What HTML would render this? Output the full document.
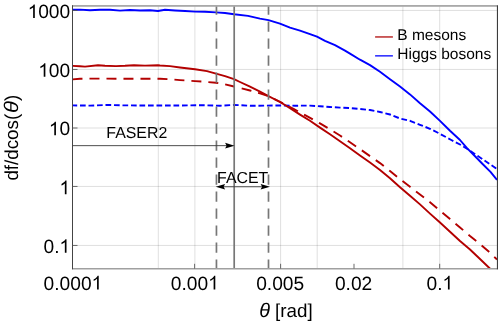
<!DOCTYPE html>
<html><head><meta charset="utf-8"><title>plot</title>
<style>
html,body{margin:0;padding:0;background:#fff;}
body{width:498px;height:322px;overflow:hidden;}
svg{display:block;font-family:"Liberation Sans",sans-serif;text-rendering:geometricPrecision;}
svg{will-change:transform;}
</style></head><body>
<svg width="498" height="322" viewBox="0 0 498 322">
<rect width="498" height="322" fill="#fff"/>
<defs><clipPath id="c"><rect x="72.5" y="6" width="425.5" height="263.2"/></clipPath></defs>

<g stroke="#000" stroke-opacity="0.14" stroke-width="0.9" fill="none">
<path d="M72.5,10.45 H497.5"/>
<path d="M72.5,69.45 H497.5"/>
<path d="M72.5,128.0 H497.5"/>
<path d="M72.5,186.45 H497.5"/>
<path d="M72.5,245.45 H497.5"/>
<path d="M158.3,6.0 V268.6"/>
<path d="M194.9,6.0 V268.6"/>
<path d="M280.6,6.0 V268.6"/>
<path d="M317.2,6.0 V268.6"/>
<path d="M402.9,6.0 V268.6"/>
<path d="M439.7,6.0 V268.6"/>
</g>
<g clip-path="url(#c)" fill="none" stroke-linejoin="round">
<path d="M72.5,105.4 L90.0,105.6 L108.0,104.9 L125.0,105.4 L150.0,105.5 L180.0,105.5 L200.0,105.2 L220.0,105.7 L234.0,104.9 L250.0,105.8 L265.0,105.6 L280.0,105.5 L295.0,105.7 L310.0,105.6 L320.0,106.3 L330.0,107.0 L340.0,107.6 L350.0,108.0 L360.0,109.0 L370.0,110.0 L380.0,112.0 L390.0,114.5 L400.0,118.5 L410.0,120.8 L420.0,124.8 L430.0,128.8 L438.8,133.2 L451.3,140.0 L460.0,144.5 L467.0,148.7 L482.6,159.2 L495.2,167.8 L497.0,169.5" stroke="#0000ff" stroke-width="1.9" stroke-dasharray="5.7 2.8" stroke-dashoffset="1"/>
<path d="M72.5,79.4 L80.0,78.7 L100.0,78.6 L120.0,78.8 L140.0,78.7 L160.0,78.7 L170.0,79.3 L180.0,80.1 L195.0,81.1 L205.0,81.8 L216.0,82.7 L225.0,84.3 L234.0,86.5 L240.0,88.0 L250.0,90.5 L260.0,93.3 L268.0,96.0 L276.0,99.8 L282.0,102.8 L294.0,109.1 L306.0,115.7 L320.0,123.4 L330.0,129.4 L340.0,135.5 L350.0,142.3 L360.0,149.1 L370.0,156.1 L380.0,163.1 L390.0,171.1 L400.0,179.2 L410.0,186.8 L420.0,194.4 L430.0,202.2 L440.0,210.7 L450.0,219.1 L460.0,227.4 L470.0,236.0 L480.0,244.0 L488.7,251.5 L497.0,259.5" stroke="#b30000" stroke-width="1.9" stroke-dasharray="10 7" stroke-dashoffset="0"/>
<path d="M72.5,65.9 L80.0,66.3 L85.0,66.6 L98.0,65.2 L105.0,65.8 L116.0,66.1 L125.0,65.8 L134.0,65.3 L145.0,65.6 L158.0,65.3 L160.0,65.5 L170.0,66.1 L180.0,67.5 L195.0,69.3 L207.0,71.1 L216.0,73.7 L225.0,76.1 L234.0,79.1 L240.0,82.0 L250.0,86.6 L260.0,91.6 L268.0,95.8 L280.0,102.0 L290.0,108.1 L300.0,114.6 L310.0,120.8 L320.0,127.6 L330.0,134.3 L340.0,141.2 L350.0,148.3 L360.0,155.5 L370.0,162.6 L380.0,170.0 L390.0,178.3 L400.0,187.2 L410.0,195.8 L420.0,204.4 L430.0,213.6 L440.0,222.5 L450.0,231.7 L460.0,241.0 L470.0,249.5 L480.0,259.0 L490.4,269.0" stroke="#b30000" stroke-width="1.9"/>
<path d="M72.5,9.8 L80.0,9.6 L90.0,10.3 L100.0,9.8 L110.0,9.7 L120.0,10.6 L130.0,10.0 L140.0,10.5 L150.0,10.2 L158.0,11.0 L165.0,9.8 L175.0,10.5 L185.0,11.0 L195.0,11.6 L205.0,11.8 L216.0,12.4 L225.0,13.0 L234.0,14.3 L248.0,15.9 L260.0,18.6 L268.5,20.1 L280.0,23.7 L290.0,27.7 L300.0,30.7 L310.0,34.1 L317.0,36.7 L325.0,40.8 L335.0,45.2 L345.0,50.6 L350.0,53.6 L360.0,59.7 L370.0,65.1 L380.0,71.8 L390.0,79.2 L400.0,86.5 L410.0,94.4 L420.0,103.2 L430.0,111.5 L440.0,120.9 L450.0,130.8 L460.0,140.0 L467.0,148.2 L474.8,156.0 L482.6,164.0 L490.5,171.9 L497.0,179.8" stroke="#0000ff" stroke-width="1.9"/>
</g>
<g stroke="#777" stroke-width="1.7" fill="none">
<path d="M234.2,6.0 V268.6"/>
<path d="M216.45,6.0 V268.6" stroke-dasharray="10.3 6.7" stroke-dashoffset="1.5"/>
<path d="M268.5,6.0 V268.6" stroke-dasharray="10.3 6.7" stroke-dashoffset="1.5"/>
</g>
<rect x="72.5" y="5" width="425.0" height="1.8" fill="#a9a9a9"/>
<rect x="72.5" y="268" width="425.0" height="1.5" fill="#a0a0a0"/>
<path d="M72.5,5.2 V269.40000000000003" stroke="#444" stroke-width="1" fill="none"/>
<rect x="496.9" y="5.3" width="1.2" height="264.1" fill="#3c3c3c"/>
<g stroke="#505050" stroke-width="0.85" fill="none">
<path d="M72.5,10.45 h5.0"/>
<path d="M72.5,69.45 h5.0"/>
<path d="M72.5,128.0 h5.0"/>
<path d="M72.5,186.45 h5.0"/>
<path d="M72.5,245.45 h5.0"/>
<path d="M194.6,268.6 v-4.8"/>
<path d="M280.6,268.6 v-4.8"/>
<path d="M354.0,268.6 v-4.8"/>
<path d="M439.7,268.6 v-4.8"/>
</g>
<g stroke="#3a3a3a" stroke-width="0.9" fill="none">
<path d="M72.5,145.65 H230"/>
<path d="M222,186.75 H263"/>
</g>
<path d="M234.5,145.65 L225.1,142.85 L226.6,145.65 L225.1,148.45000000000002 Z" fill="#000"/>
<path d="M270.0,186.75 L260.6,183.95 L262.1,186.75 L260.6,189.55 Z" fill="#000"/>
<path d="M215.7,186.75 L225.1,183.95 L223.6,186.75 L225.1,189.55 Z" fill="#000"/>
<g fill="#000" font-size="19.2px">
<text x="43.54 54.22 59.55 70.23 80.91" y="289.6">0.000</text><path transform="translate(91.58,289.6) scale(0.009375,-0.009375)" d="M763 0H583V1147Q518 1085 412.5 1023T223 930V1104Q374 1175 487 1276T647 1472H763Z"/>
<text x="170.78 181.45 186.79 197.47" y="289.6">0.00</text><path transform="translate(208.15,289.6) scale(0.009375,-0.009375)" d="M763 0H583V1147Q518 1085 412.5 1023T223 930V1104Q374 1175 487 1276T647 1472H763Z"/>
<text x="256.18 266.85 272.19 282.87 293.55" y="289.6">0.005</text>
<text x="334.92 345.59 350.93 361.61" y="289.6">0.02</text>
<text x="426.45 437.13" y="289.6">0.</text><path transform="translate(442.47,289.6) scale(0.009375,-0.009375)" d="M763 0H583V1147Q518 1085 412.5 1023T223 930V1104Q374 1175 487 1276T647 1472H763Z"/>
<text x="38.30 48.87 59.43" y="18.1">000</text><path transform="translate(27.73,18.1) scale(0.009277,-0.009277)" d="M763 0H583V1147Q518 1085 412.5 1023T223 930V1104Q374 1175 487 1276T647 1472H763Z"/>
<text x="48.87 59.43" y="76.8">00</text><path transform="translate(38.30,76.8) scale(0.009277,-0.009277)" d="M763 0H583V1147Q518 1085 412.5 1023T223 930V1104Q374 1175 487 1276T647 1472H763Z"/>
<text x="59.43" y="135.3">0</text><path transform="translate(48.87,135.3) scale(0.009277,-0.009277)" d="M763 0H583V1147Q518 1085 412.5 1023T223 930V1104Q374 1175 487 1276T647 1472H763Z"/>
<path transform="translate(59.43,194.2) scale(0.009277,-0.009277)" d="M763 0H583V1147Q518 1085 412.5 1023T223 930V1104Q374 1175 487 1276T647 1472H763Z"/>
<text x="43.59 54.15" y="252.8">0.</text><path transform="translate(59.43,252.8) scale(0.009277,-0.009277)" d="M763 0H583V1147Q518 1085 412.5 1023T223 930V1104Q374 1175 487 1276T647 1472H763Z"/>
</g>
<g fill="#000" font-size="19px">
<text x="285.9" y="317.0" text-anchor="middle" font-size="18.8px"><tspan font-style="italic" font-size="19.8px">θ</tspan> [rad]</text>
<g transform="translate(18.4,180.6) rotate(-90)" font-size="18.8px"><text x="0" y="0">df/dcos(</text><text transform="translate(67.6,0) scale(1.12,1)" font-style="italic" font-size="19.8px">θ</text><text x="79.6" y="0">)</text></g>
</g>
<g fill="#000" font-size="15.5px">
<text x="106.3" y="137.9" font-size="15.9px">FASER2</text>
<text x="217.1" y="182.7" font-size="15.9px">FACET</text>
<text x="397.3" y="39.9">B mesons</text>
<text x="397.3" y="59.2">Higgs bosons</text>
</g>
<path d="M375.1,36.95 H392.9" stroke="#b82424" stroke-width="1.45" fill="none"/>
<path d="M375.1,55.85 H392.9" stroke="#1c1cff" stroke-width="1.45" fill="none"/>
</svg></body></html>
